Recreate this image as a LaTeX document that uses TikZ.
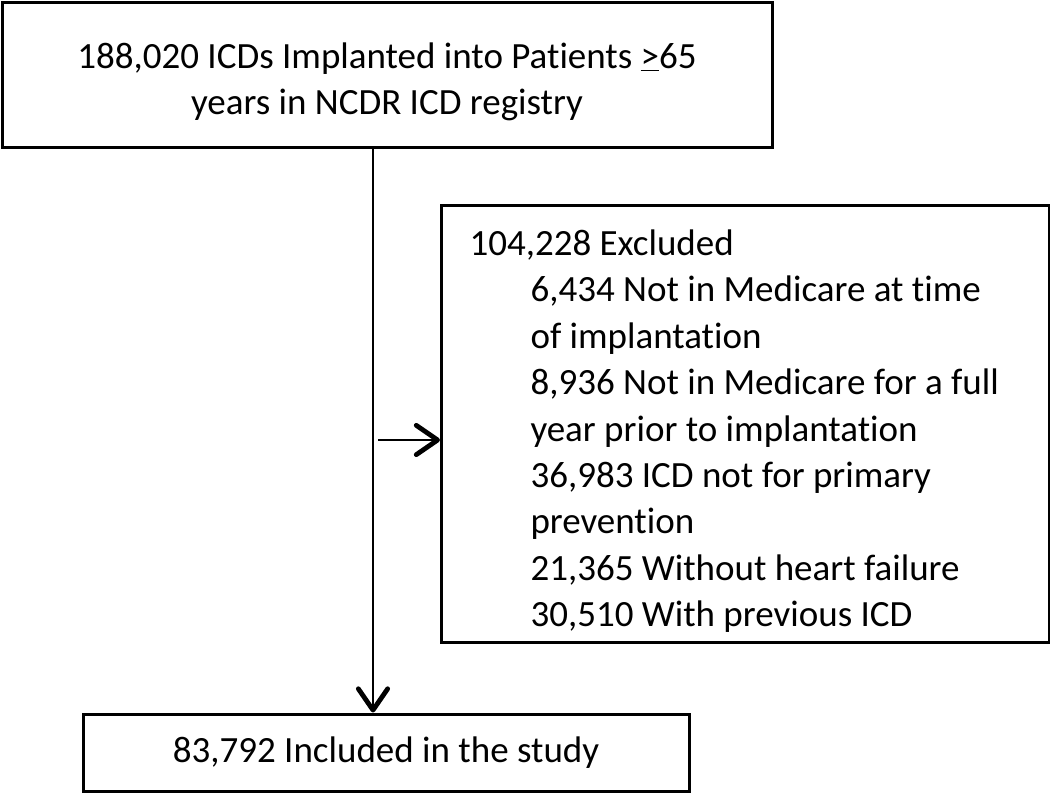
\documentclass[tikz,border=0pt]{standalone}
\usepackage{fontspec}
\setmainfont{Carlito}[Ligatures=NoCommon]
\usetikzlibrary{arrows.meta}
\newlength\pu
\setlength\pu{0.75pt}
\begin{document}
\begin{tikzpicture}[x=0.75pt,y=-0.75pt,
  font=\fontsize{27.75pt}{34.8pt}\selectfont,
  box/.style={draw, line width=2.25pt, inner sep=0pt},
  conn/.style={line width=1.5pt, -{Straight Barb[length=16pt,width=22pt,line width=3.6pt,round]}}]
\fill[white] (0,0) rectangle (1050,793);
\useasboundingbox (0,0) rectangle (1050,793);
\node[box, minimum width=770\pu, minimum height=145\pu, align=center] (top) at (387,74.5)
  {\rule{0pt}{40\pu}188,020 ICDs Implanted into Patients \underline{>}65\\years in NCDR ICD registry};
\node[box, anchor=north west, minimum width=608\pu, minimum height=437\pu,
  inner xsep=28\pu, inner ysep=2\pu] (excl) at (440,204)
  {\makebox[552\pu][l]{\begin{tabular}{@{}l@{}}
   \rule{0pt}{48\pu}104,228 Excluded\\
   \hspace*{61\pu}6,434 Not in Medicare at time\\
   \hspace*{61\pu}of implantation\\
   \hspace*{61\pu}8,936 Not in Medicare for a full\\
   \hspace*{61\pu}year prior to implantation\\
   \hspace*{61\pu}36,983 ICD not for primary\\
   \hspace*{61\pu}prevention\\
   \hspace*{61\pu}21,365 Without heart failure\\
   \hspace*{61\pu}30,510 With previous ICD
   \end{tabular}}};
\node[box, minimum width=606\pu, minimum height=77\pu] (bot) at (386,752.5)
  {83,792 Included in the study};
\coordinate (vs) at ([xshift=-14\pu]top.south);
\draw[conn] (vs) -- (vs |- bot.north);
\coordinate (hs) at (378,440);
\draw[conn] (hs) -- (hs -| excl.west);
\end{tikzpicture}
\end{document}
